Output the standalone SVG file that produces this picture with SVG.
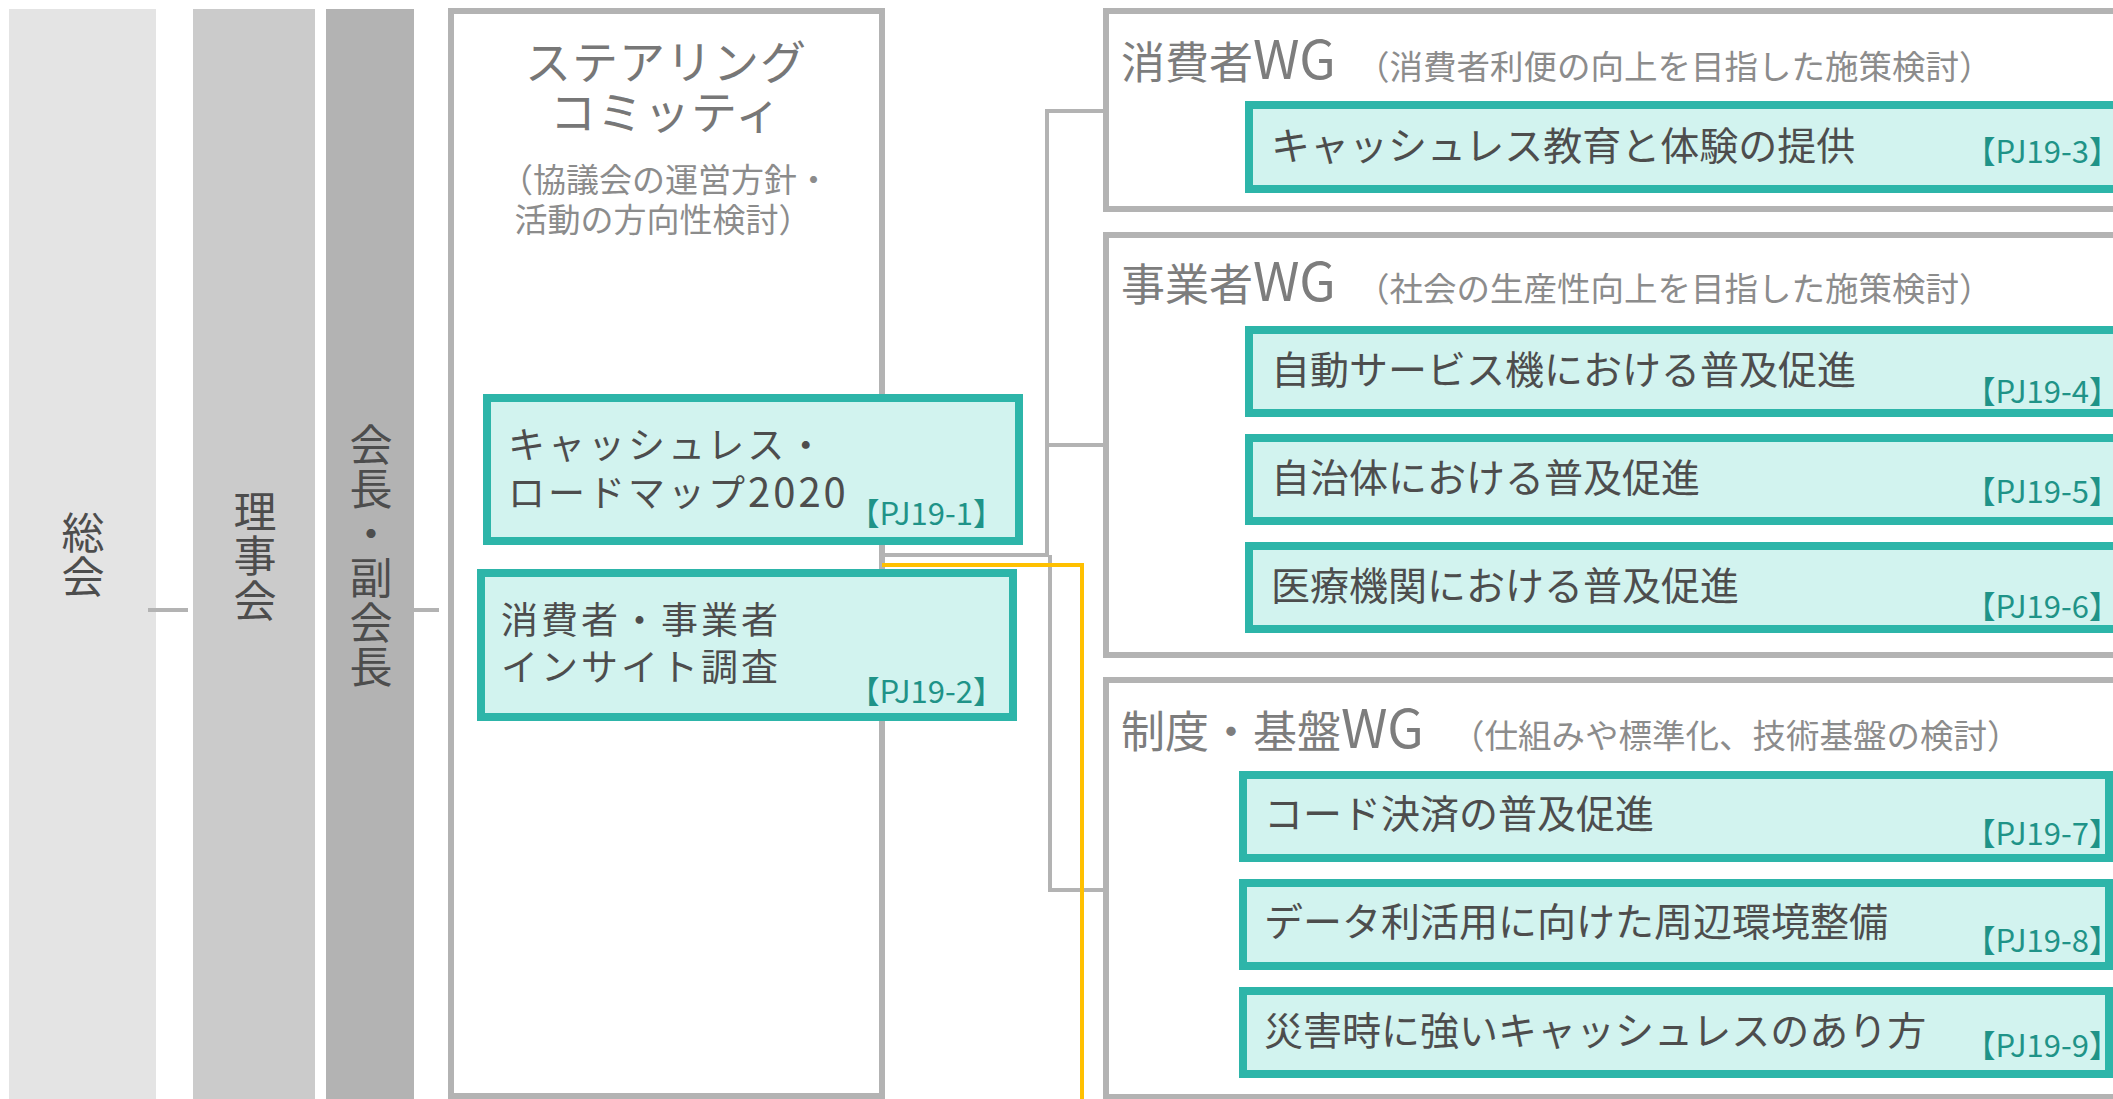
<svg xmlns="http://www.w3.org/2000/svg" width="2113" height="1099" viewBox="0 0 2113 1099">
<style>
text { font-family: "Noto Sans CJK JP", "Noto Sans", sans-serif; }
.box { fill:#ffffff; stroke:#b3b3b3; stroke-width:6; }
.pj { fill:#d2f3ef; stroke:#2db5a9; stroke-width:8; }
.conn { fill:none; stroke:#b3b3b3; stroke-width:4; }
.vt { font-size:43px; fill:#4d4d4d; writing-mode:vertical-rl; letter-spacing:1.5px; }
.pjt { font-size:39px; fill:#4d4d4d; }
.pjl { font-size:37px; fill:#4d4d4d; letter-spacing:3px; }
.dg { font-size:40px; letter-spacing:3px; }
.lbl { font-size:31px; fill:#1f9388; text-anchor:end; }
.wgt { font-size:44px; fill:#7d7d7d; }
.wl { font-size:53px; }
.wgs { font-size:33.5px; fill:#8c8c8c; }
.sct { font-size:46px; fill:#777777; text-anchor:middle; letter-spacing:1px; }
.scs { font-size:33px; fill:#8c8c8c; text-anchor:middle; }
</style>

<g id="soukai">
<rect x="9" y="9" width="147" height="1095" fill="#e4e4e4"/>
<text class="vt" x="83" y="511">総会</text>
</g>
<g id="rijikai">
<rect x="193" y="9" width="122" height="1095" fill="#cbcbcb"/>
<text class="vt" x="255" y="490">理事会</text>
</g>
<g id="kaicho">
<rect x="326" y="9" width="88" height="1095" fill="#b3b3b3"/>
<text class="vt" x="371" y="423">会長・副会長</text>
</g>

<g id="steering">
<rect class="box" x="451" y="11" width="431" height="1085"/>
<text class="sct" x="666" y="79">ステアリング</text>
<text class="sct" x="666" y="129">コミッティ</text>
<text class="scs" x="665" y="192">（協議会の運営方針・</text>
<text class="scs" x="663" y="232">活動の方向性検討）</text>
</g>

<g id="wg-consumer">
<rect class="box" x="1106" y="11" width="1904" height="198"/>
<text class="wgt" x="1121" y="79">消費者<tspan class="wl">WG</tspan></text>
<text class="wgs" x="1356" y="79">（消費者利便の向上を目指した施策検討）</text>
</g>
<g id="wg-business">
<rect class="box" x="1106" y="235" width="1904" height="420"/>
<text class="wgt" x="1121" y="301">事業者<tspan class="wl">WG</tspan></text>
<text class="wgs" x="1356" y="301">（社会の生産性向上を目指した施策検討）</text>
</g>
<g id="wg-infra">
<rect class="box" x="1106" y="680" width="1904" height="417"/>
<text class="wgt" x="1121" y="748">制度・基盤<tspan class="wl">WG</tspan></text>
<text class="wgs" x="1451" y="748">（仕組みや標準化、技術基盤の検討）</text>
</g>

<g id="connectors">
<path class="conn" d="M148,610 H188"/>
<path class="conn" d="M414,610 H439"/>
<path class="conn" d="M885,555 H1047 V111 H1103"/>
<path class="conn" d="M1047,445 H1103"/>
<path class="conn" d="M1050,555 V890 H1103"/>
<path fill="none" stroke="#ffc000" stroke-width="4" d="M882,565 H1082 V1099"/>
</g>

<g id="pj19-1">
<rect class="pj" x="487" y="398" width="532" height="143"/>
<text class="pjl" x="508" y="459">キャッシュレス・</text>
<text class="pjl" x="508" y="507">ロードマップ<tspan class="dg">2020</tspan></text>
<text class="lbl" x="1004" y="525">【PJ19-1】</text>
</g>
<g id="pj19-2">
<rect class="pj" x="481" y="573" width="532" height="144"/>
<text class="pjl" x="501" y="634">消費者・事業者</text>
<text class="pjl" x="501" y="681">インサイト調査</text>
<text class="lbl" x="1004" y="703">【PJ19-2】</text>
</g>

<g id="pj19-3">
<rect class="pj" x="1249" y="105" width="900" height="84"/>
<text class="pjt" x="1271" y="160">キャッシュレス教育と体験の提供</text>
<text class="lbl" x="2120" y="163">【PJ19-3】</text>
</g>
<g id="pj19-4">
<rect class="pj" x="1249" y="330" width="900" height="83"/>
<text class="pjt" x="1271" y="384">自動サービス機における普及促進</text>
<text class="lbl" x="2120" y="403">【PJ19-4】</text>
</g>
<g id="pj19-5">
<rect class="pj" x="1249" y="438" width="900" height="83"/>
<text class="pjt" x="1271" y="492">自治体における普及促進</text>
<text class="lbl" x="2120" y="503">【PJ19-5】</text>
</g>
<g id="pj19-6">
<rect class="pj" x="1249" y="546" width="900" height="83"/>
<text class="pjt" x="1271" y="600">医療機関における普及促進</text>
<text class="lbl" x="2120" y="618">【PJ19-6】</text>
</g>
<g id="pj19-7">
<rect class="pj" x="1243" y="775" width="866" height="83"/>
<text class="pjt" x="1264" y="828">コード決済の普及促進</text>
<text class="lbl" x="2120" y="845">【PJ19-7】</text>
</g>
<g id="pj19-8">
<rect class="pj" x="1243" y="883" width="866" height="83"/>
<text class="pjt" x="1264" y="936">データ利活用に向けた周辺環境整備</text>
<text class="lbl" x="2120" y="952">【PJ19-8】</text>
</g>
<g id="pj19-9">
<rect class="pj" x="1243" y="991" width="866" height="83"/>
<text class="pjt" x="1264" y="1045">災害時に強いキャッシュレスのあり方</text>
<text class="lbl" x="2120" y="1057">【PJ19-9】</text>
</g>
</svg>
